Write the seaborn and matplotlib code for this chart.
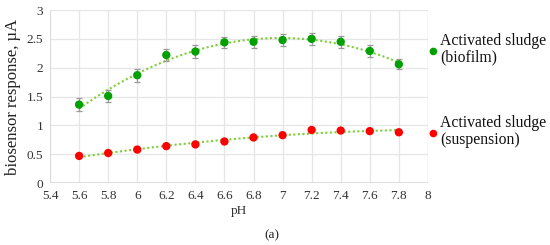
import numpy as np
import pandas as pd
import matplotlib
matplotlib.use("Agg")
import matplotlib.pyplot as plt
import seaborn as sns

# Data
ph = [5.6, 5.8, 6.0, 6.2, 6.4, 6.6, 6.8, 7.0, 7.2, 7.4, 7.6, 7.8]
biofilm = [1.36, 1.51, 1.87, 2.22, 2.28, 2.44, 2.45, 2.48, 2.50, 2.45, 2.29, 2.06]
biofilm_err = [0.11, 0.10, 0.11, 0.11, 0.11, 0.10, 0.10, 0.11, 0.11, 0.10, 0.10, 0.09]
suspension = [0.47, 0.52, 0.58, 0.64, 0.67, 0.72, 0.79, 0.83, 0.92, 0.91, 0.90, 0.88]

x_ticks = [5.4, 5.6, 5.8, 6, 6.2, 6.4, 6.6, 6.8, 7, 7.2, 7.4, 7.6, 7.8, 8]
y_ticks = [0, 0.5, 1, 1.5, 2, 2.5, 3]

df = pd.DataFrame({"pH": ph, "biofilm": biofilm, "err": biofilm_err,
                   "suspension": suspension})

sns.set_theme(style="whitegrid")
plt.rcParams["font.family"] = ["Liberation Serif", "DejaVu Serif"]

fig = plt.figure(figsize=(5.5, 2.45), dpi=100)
ax = fig.add_axes([0.091, 0.253, 0.687, 0.706])

# polynomial trend lines (Excel-style)
xs = np.linspace(ph[0], ph[-1], 100)
for col in ["biofilm", "suspension"]:
    coef = np.polyfit(df["pH"], df[col], 2)
    ax.plot(xs, np.polyval(coef, xs), color="#7dcf3a", ls=(0, (1, 1.2)), lw=1.5, zorder=2)

ax.errorbar(df["pH"], df["biofilm"], yerr=df["err"], fmt="none",
            ecolor="#9a9a9a", elinewidth=0.9, capsize=2.5, capthick=0.9, zorder=3)
sns.scatterplot(data=df, x="pH", y="biofilm", color="#00a000", s=36,
                edgecolor="none", ax=ax, zorder=4)
sns.scatterplot(data=df, x="pH", y="suspension", color="#ff0000", s=36,
                edgecolor="none", ax=ax, zorder=4)

ax.set_xlim(5.4, 8)
ax.set_ylim(0, 3)
ax.set_xticks(x_ticks)
ax.set_xticklabels([f"{t:g}" for t in x_ticks])
ax.set_yticks(y_ticks)
ax.set_yticklabels([f"{t:g}" for t in y_ticks])
ax.tick_params(labelsize=9.5, length=0, pad=5, colors="#333333")
ax.grid(color="#e6e6e6", lw=0.9)
for s in ax.spines.values():
    s.set_visible(False)
ax.axhline(0, color="#d9d9d9", lw=1.2, zorder=1)
ax.axvline(5.4, color="#d9d9d9", lw=1.2, zorder=1)
ax.axvline(8, color="#e6e6e6", lw=0.9, zorder=1)

ax.set_xlabel("pH", fontsize=9.5, color="#333333", labelpad=2)
ax.set_ylabel("biosensor response, \u00b5A", fontsize=12, color="#222222", labelpad=4)

# legend entries on the right
lg = fig.add_axes([0, 0, 1, 1], facecolor="none")
lg.set_axis_off()
lg.set_xlim(0, 1)
lg.set_ylim(0, 1)
lg.scatter([0.788], [0.79], s=30, color="#00a000", edgecolor="none")
lg.scatter([0.788], [0.455], s=30, color="#ff0000", edgecolor="none")
fig.text(0.800, 0.80, "Activated sludge\n(biofilm)", fontsize=11.3, color="#111111",
         va="center", ha="left", linespacing=1.05)
fig.text(0.800, 0.463, "Activated sludge\n(suspension)", fontsize=11.3, color="#111111",
         va="center", ha="left", linespacing=1.05)

fig.text(0.495, 0.04, "(a)", fontsize=9.5, color="#222222", ha="center", va="center")

fig.savefig("out.png", dpi=100)
